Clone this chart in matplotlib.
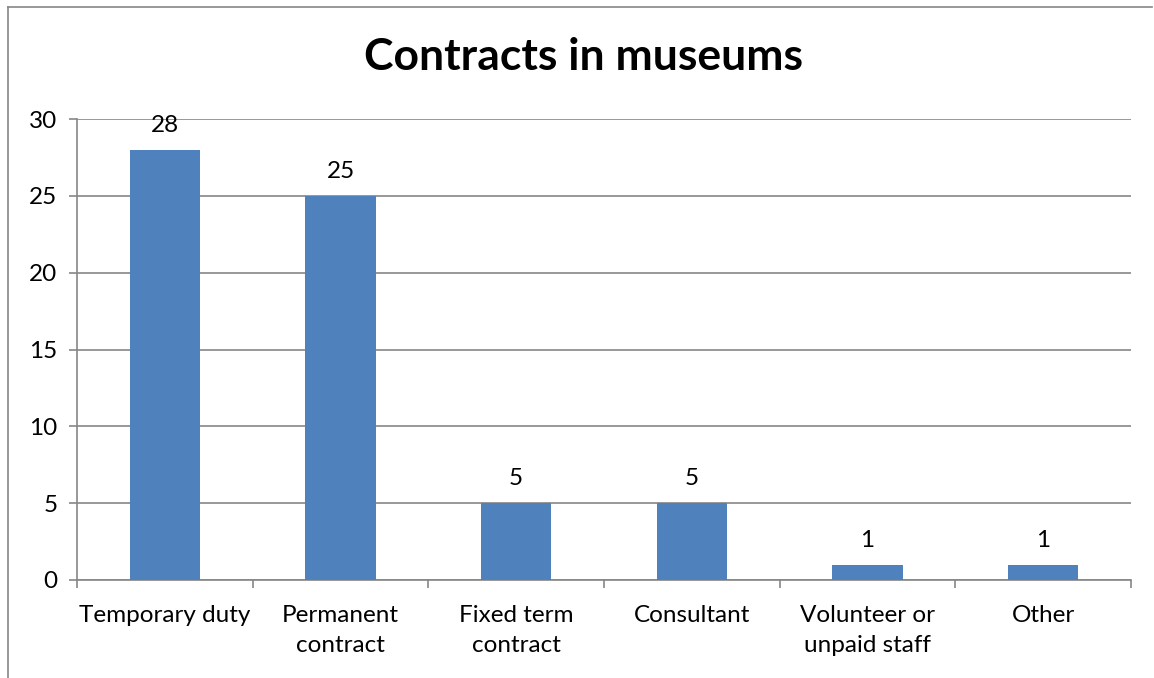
import matplotlib
matplotlib.use('Agg')
from matplotlib import pyplot as plt
from matplotlib.lines import Line2D

plt.rcParams['font.family'] = ['Lato', 'DejaVu Sans']

categories = ['Temporary duty', 'Permanent\ncontract', 'Fixed term\ncontract',
              'Consultant', 'Volunteer or\nunpaid staff', 'Other']
counts = [28, 25, 5, 5, 1, 1]
y_ticks = [0, 5, 10, 15, 20, 25, 30]

BAR_COLOR = '#4F81BD'
GRID_COLOR = '#868686'
FS = 17.5

fig = plt.figure(figsize=(11.54, 6.78), dpi=100)
ax = fig.add_axes([77 / 1154, 1 - 580 / 678, (1131 - 77) / 1154, (580 - 119) / 678])

x = list(range(len(categories)))
ax.bar(x, counts, width=0.4, color=BAR_COLOR, zorder=3)
for xi, v in zip(x, counts):
    ax.annotate(str(v), (xi, v), xytext=(0, 10), textcoords='offset points',
                ha='center', va='bottom', fontsize=FS, color='black', zorder=4)

ax.set_xlim(-0.5, len(categories) - 0.5)
ax.set_ylim(0, 30)
ax.set_yticks(y_ticks)
ax.set_yticklabels([str(t) for t in y_ticks], fontsize=FS)
ax.yaxis.grid(True, color=GRID_COLOR, linewidth=1.2, zorder=0)
ax.tick_params(axis='y', length=6, width=1.2, color=GRID_COLOR, pad=8)

# category labels centred, tick marks on category boundaries
ax.set_xticks(x)
ax.set_xticklabels(categories, fontsize=FS, linespacing=1.55, va='top')
ax.tick_params(axis='x', which='major', length=0, pad=18)
ax.set_xticks([i - 0.5 for i in range(len(categories) + 1)], minor=True)
ax.tick_params(axis='x', which='minor', length=6, width=1.2, color=GRID_COLOR)

for side in ['top', 'right']:
    ax.spines[side].set_visible(False)
for side in ['left', 'bottom']:
    ax.spines[side].set_color(GRID_COLOR)
    ax.spines[side].set_linewidth(1.2)

fig.text(584 / 1154, 1 - 57 / 678, 'Contracts in museums', ha='center', va='center',
         fontsize=32, fontweight='bold')

# chart area border
fig.add_artist(Line2D([8 / 1154, 8 / 1154], [0, 1 - 7 / 678], transform=fig.transFigure,
                      color=GRID_COLOR, linewidth=1.2))
fig.add_artist(Line2D([8 / 1154, 1152 / 1154], [1 - 7 / 678, 1 - 7 / 678],
                      transform=fig.transFigure, color=GRID_COLOR, linewidth=1.2))

fig.savefig('out.png', dpi=100)
